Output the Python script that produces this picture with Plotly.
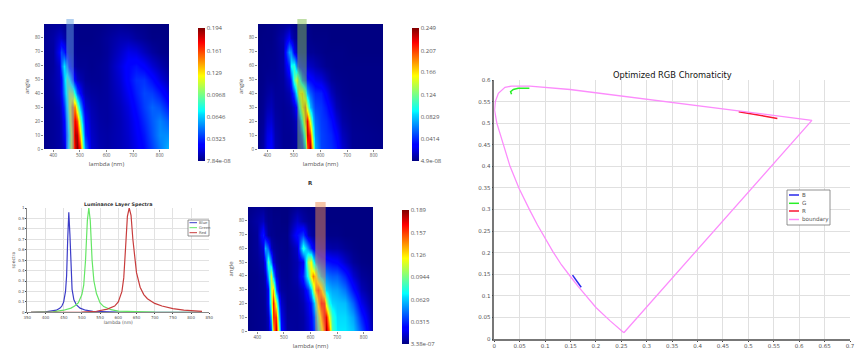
import plotly.graph_objects as go

W, H = 867, 358

angles = [0, 10, 20, 30, 40, 50, 60, 70, 80, 90]

lam_b = [365,400,420,430,440,450,460,470,480,490,500,510,520,540,570,600,650,680,710,740,770,800,835]
z_b = [
 [2,4,6,8,12,50,90,140,178,194,170,90,50,14,8,6,9,12,18,25,36,48,62],
 [2,4,6,9,20,45,85,140,185,185,135,70,32,12,7,6,9,13,20,28,40,52,52],
 [2,4,6,10,24,55,100,150,175,160,100,50,24,10,6,5,9,14,22,32,42,50,42],
 [2,4,7,14,34,70,115,150,145,105,60,30,15,8,5,5,10,16,26,36,44,40,28],
 [2,5,10,20,50,85,115,110,70,42,24,12,8,5,4,5,12,20,30,38,36,28,16],
 [2,6,10,20,60,92,78,42,20,12,8,6,4,3,3,5,14,24,33,34,26,16,8],
 [2,5,12,40,70,50,22,10,6,4,3,3,3,2,3,5,16,24,27,22,14,8,3],
 [3,5,20,38,30,12,5,3,3,2,2,2,2,2,2,4,12,18,16,10,5,2,1],
 [3,6,12,12,8,4,3,2,2,2,1,1,1,1,2,4,8,8,5,3,1,1,0],
 [2,4,4,3,2,2,1,1,1,1,1,1,1,1,1,2,3,2,1,1,0,0,0],
]
ticks_b = [0.0000000784, 0.0323, 0.0646, 0.0968, 0.129, 0.161, 0.194]
labels_b = ["7.84e-08", "0.0323", "0.0646", "0.0968", "0.129", "0.161", "0.194"]

lam_g = [365,385,400,415,430,460,480,490,500,510,520,530,540,550,560,570,580,600,620,640,660,680,720,835]
z_g = [
 [2,8,25,30,12,4,4,5,6,8,14,28,70,195,245,150,75,48,45,42,36,18,4,2],
 [2,7,22,26,10,4,4,5,7,10,20,50,120,235,210,110,65,48,44,40,30,13,4,2],
 [2,5,16,18,8,4,5,6,9,16,40,100,190,225,150,80,58,46,42,34,20,8,3,1],
 [1,4,10,12,6,4,6,9,18,38,95,165,195,140,80,58,48,44,36,24,11,5,2,1],
 [1,3,6,8,5,5,10,22,50,105,160,170,120,75,55,45,40,38,26,13,6,3,1,1],
 [1,2,4,4,4,6,20,45,115,150,110,60,42,36,32,28,24,20,12,5,3,2,1,1],
 [1,2,2,3,3,8,40,95,105,55,30,22,18,16,14,12,10,6,3,2,1,1,1,1],
 [1,1,2,2,3,8,70,65,25,12,8,6,6,5,4,4,3,2,1,1,1,1,0,0],
 [0,1,1,1,3,10,28,14,6,4,3,3,2,2,2,1,1,1,1,0,0,0,0,0],
 [0,0,1,1,2,4,5,3,2,1,1,1,1,1,1,0,0,0,0,0,0,0,0,0],
]
ticks_g = [0.000000049, 0.0414, 0.0829, 0.124, 0.166, 0.207, 0.249]
labels_g = ["4.9e-08", "0.0414", "0.0829", "0.124", "0.166", "0.207", "0.249"]

lam_r = [365,400,420,430,440,450,460,470,480,490,510,550,570,590,600,610,620,630,640,650,660,670,680,700,730,760,790,835]
z_r = [
 [1,2,3,4,8,35,130,180,90,25,5,4,6,12,20,30,45,70,105,150,185,150,85,68,68,62,40,6],
 [1,2,3,4,10,60,160,160,60,18,4,4,6,14,22,35,55,90,135,175,170,120,80,66,66,55,30,4],
 [1,2,3,5,18,95,165,110,35,12,3,4,8,18,30,50,85,130,170,165,110,75,65,62,60,42,18,2],
 [1,2,4,6,20,110,135,45,10,5,3,5,12,32,60,100,145,160,130,85,65,60,56,55,46,26,9,1],
 [1,2,5,10,55,115,60,15,6,3,2,8,30,80,125,145,120,80,60,52,48,44,42,42,30,13,4,1],
 [1,3,8,25,85,50,15,6,3,2,2,8,20,105,120,80,50,40,34,30,28,26,24,22,12,4,1,0],
 [1,4,15,58,40,10,5,3,2,2,1,12,80,50,30,20,16,12,10,9,8,7,6,6,3,1,0,0],
 [1,4,28,15,4,2,2,1,1,1,1,25,35,10,6,4,3,3,2,2,2,1,1,1,0,0,0,0],
 [2,6,10,5,2,2,1,1,1,0,0,12,6,3,2,2,1,1,1,1,0,0,0,0,0,0,0,0],
 [1,3,3,2,1,1,0,0,0,0,0,3,2,1,1,1,0,0,0,0,0,0,0,0,0,0,0,0],
]
ticks_r = [0.000000338, 0.0315, 0.0629, 0.0944, 0.126, 0.157, 0.189]
labels_r = ["3.38e-07", "0.0315", "0.0629", "0.0944", "0.126", "0.157", "0.189"]

spec_blue_x = [360,400,430,440,445,450,455,458,461,464,467,470,473,478,485,495,510,530,560,600,830]
spec_blue_y = [0,.005,.02,.04,.06,.1,.2,.35,.7,.96,.75,.4,.22,.12,.07,.04,.02,.01,.005,.003,0]
spec_green_x = [360,420,450,470,480,490,500,505,510,515,519,523,528,533,540,550,560,580,600,650,700,830]
spec_green_y = [0,.004,.02,.04,.06,.09,.17,.26,.5,.88,1,.88,.5,.3,.18,.09,.055,.025,.012,.004,.002,0]
spec_red_x = [360,500,540,570,590,600,610,615,620,625,630,635,640,645,650,660,670,680,700,720,750,780,830]
spec_red_y = [0,.002,.01,.03,.06,.1,.2,.33,.62,.92,1,.93,.7,.5,.38,.24,.17,.13,.085,.06,.035,.02,.008]

bound_x = [.255,.228,.2,.18,.165,.149,.132,.115,.1,.085,.07,.049,.031,.018,.005,.0005,.002,.008,.021,.034,.07,.149,.248,.346,.625,.255]
bound_y = [.0146,.042,.073,.1,.122,.146,.172,.203,.232,.264,.298,.348,.40,.449,.5,.53,.55,.569,.583,.586,.586,.578,.563,.548,.5066,.0146]
chrom_b_x = [.154,.160,.166,.171]
chrom_b_y = [.148,.139,.128,.12]
chrom_g_x = [.034,.032,.0375,.047,.069]
chrom_g_y = [.567,.573,.578,.5806,.5806]
chrom_r_x = [.481,.51,.535,.557]
chrom_r_y = [.5265,.521,.516,.511]

chrom_xticks = [0,.05,.1,.15,.2,.25,.3,.35,.4,.45,.5,.55,.6,.65,.7]
chrom_xlabels = ["0","0.05","0.1","0.15","0.2","0.25","0.3","0.35","0.4","0.45","0.5","0.55","0.6","0.65","0.7"]
chrom_yticks = [0,.05,.1,.15,.2,.25,.3,.35,.4,.45,.5,.55,.6]
chrom_ylabels = ["0","0.05","0.1","0.15","0.2","0.25","0.3","0.35","0.4","0.45","0.5","0.55","0.6"]
spec_xticks = [350,400,450,500,550,600,650,700,750,800,850]
spec_yticks = [0,.1,.2,.3,.4,.5,.6,.7,.8,.9,1]
spec_ylabels = ["0","0.1","0.2","0.3","0.4","0.5","0.6","0.7","0.8","0.9","1"]

GREY = "#555555"
FONT = "Open Sans"
MPL = "DejaVu Sans"
JET = [[0, "rgb(0,0,130)"], [.11, "rgb(0,0,255)"], [.125, "rgb(0,0,255)"], [.35, "rgb(0,220,255)"],
       [.375, "rgb(0,255,255)"], [.64, "rgb(255,255,0)"], [.66, "rgb(255,235,0)"], [.89, "rgb(255,0,0)"],
       [.91, "rgb(232,0,0)"], [1, "rgb(128,0,0)"]]


def xdom(a, b):
    return [a / W, b / W]


def ydom(top, bottom):
    return [1 - bottom / H, 1 - top / H]


fig = go.Figure()
shapes = []
annotations = []


def heat(idx, lam, z, ticks, labels, box, cbar, band, band_color):
    left, right, top, bottom = box
    cb_left, cb_top, cb_bottom = cbar
    suffix = str(idx)
    fig.add_trace(go.Heatmap(
        x=lam, y=angles, z=[[v / 1000 for v in row] for row in z],
        zmin=ticks[0], zmax=ticks[-1], zsmooth="best", colorscale=JET,
        xaxis="x" + suffix, yaxis="y" + suffix,
        colorbar=dict(x=cb_left / W, xanchor="left", xpad=0, ypad=0,
                      y=1 - (cb_top + cb_bottom) / 2 / H, yanchor="middle",
                      lenmode="pixels", len=cb_bottom - cb_top, thickness=7,
                      outlinewidth=0, ticks="", tickvals=ticks, ticktext=labels,
                      tickfont=dict(size=6, color=GREY, family=FONT)),
    ))
    fig.layout["xaxis" + suffix] = dict(
        domain=xdom(left, right), anchor="y" + suffix, range=[365, 835],
        tickvals=[400, 500, 600, 700, 800], ticks="outside", ticklen=2, tickcolor="#888",
        tickfont=dict(size=4.5, color=GREY, family=FONT), showgrid=False, zeroline=False,
        title=dict(text="lambda (nm)", font=dict(size=6, color=GREY, family=FONT), standoff=4),
    )
    fig.layout["yaxis" + suffix] = dict(
        domain=ydom(top, bottom), anchor="x" + suffix, range=[0, 90],
        tickvals=[0, 10, 20, 30, 40, 50, 60, 70, 80], ticks="outside", ticklen=2, tickcolor="#888",
        tickfont=dict(size=4.5, color=GREY, family=FONT), showgrid=False, zeroline=False,
        title=dict(text="angle", font=dict(size=6, color=GREY, family=FONT), standoff=4),
    )
    shapes.append(dict(type="rect", xref="x" + suffix, yref="paper", x0=band[0], x1=band[1],
                       y0=1 - bottom / H, y1=1 - (top - 5) / H, fillcolor=band_color,
                       opacity=0.5, line=dict(width=0), layer="above"))


heat(1, lam_b, z_b, ticks_b, labels_b, (44, 169, 24, 149), (198, 28, 161), (449, 477), "rgb(100,160,225)")
heat(2, lam_g, z_g, ticks_g, labels_g, (258, 383, 24, 149), (412, 28, 161), (513, 548), "rgb(130,190,80)")
heat(3, lam_r, z_r, ticks_r, labels_r, (248, 373, 207, 331), (402, 210, 344), (618, 657), "rgb(238,140,80)")

spec_series = [("Blue", spec_blue_x, spec_blue_y, "rgb(60,60,200)"),
               ("Green", spec_green_x, spec_green_y, "rgb(100,230,100)"),
               ("Red", spec_red_x, spec_red_y, "rgb(200,60,60)")]
for name, xs, ys, col in spec_series:
    fig.add_trace(go.Scatter(x=xs, y=ys, mode="lines", name=name, xaxis="x4", yaxis="y4",
                             line=dict(color=col, width=1.2), showlegend=False))

fig.layout["xaxis4"] = dict(
    domain=xdom(27.3, 209.3), anchor="y4", range=[350, 850], tickvals=spec_xticks,
    ticks="outside", ticklen=1, tickfont=dict(size=4, color=GREY, family=MPL),
    gridcolor="#e2e2e2", gridwidth=1, zeroline=False, showline=True, linecolor="#888",
    title=dict(text="lambda (nm)", font=dict(size=4.5, color=GREY, family=MPL), standoff=0),
)
fig.layout["yaxis4"] = dict(
    domain=ydom(208, 312.3), anchor="x4", range=[0, 1], tickvals=spec_yticks, ticktext=spec_ylabels,
    ticks="outside", ticklen=1, tickfont=dict(size=4, color=GREY, family=MPL),
    gridcolor="#e2e2e2", gridwidth=1, zeroline=False, showline=True, linecolor="#888",
    title=dict(text="spectra", font=dict(size=4.5, color=GREY, family=MPL), standoff=2),
)

chrom_series = [("B", chrom_b_x, chrom_b_y, "rgb(40,40,235)", 1.5),
                ("G", chrom_g_x, chrom_g_y, "rgb(40,240,40)", 1.5),
                ("R", chrom_r_x, chrom_r_y, "rgb(250,20,50)", 1.5),
                ("boundary", bound_x, bound_y, "rgb(252,140,252)", 1.3)]
for name, xs, ys, col, wid in chrom_series:
    fig.add_trace(go.Scatter(x=xs, y=ys, mode="lines", name=name, xaxis="x5", yaxis="y5",
                             line=dict(color=col, width=wid), showlegend=False))

fig.layout["xaxis5"] = dict(
    domain=xdom(494.3, 850), anchor="y5", range=[0, .7], tickvals=chrom_xticks, ticktext=chrom_xlabels,
    ticks="outside", ticklen=1, tickfont=dict(size=5.5, color=GREY, family=MPL),
    gridcolor="#e0e0e0", gridwidth=1, zeroline=False, showline=True, linecolor="#777", linewidth=1.5,
)
fig.layout["yaxis5"] = dict(
    domain=ydom(80, 339), anchor="x5", range=[0, .6], tickvals=chrom_yticks, ticktext=chrom_ylabels,
    ticks="outside", ticklen=1, tickfont=dict(size=5.5, color=GREY, family=MPL),
    gridcolor="#e0e0e0", gridwidth=1, zeroline=False, showline=True, linecolor="#777", linewidth=1.5,
)


def label(text, x, y, size, color="#333333", family=MPL, bold=False, anchor="center"):
    annotations.append(dict(text=f"<b>{text}</b>" if bold else text, xref="paper", yref="paper",
                            x=x / W, y=1 - y / H, showarrow=False, xanchor=anchor, yanchor="middle",
                            xshift=0, yshift=0, borderpad=0,
                            font=dict(size=size, color=color, family=family)))


def legend_box(names, colors, box, line_x, text_x, rows, size, widths):
    x0, x1, y0, y1 = box
    shapes.append(dict(type="rect", xref="paper", yref="paper", x0=x0 / W, x1=x1 / W,
                       y0=1 - y1 / H, y1=1 - y0 / H, fillcolor="white",
                       line=dict(color="#777777", width=0.8), layer="above"))
    for name, col, row in zip(names, colors, rows):
        shapes.append(dict(type="line", xref="paper", yref="paper", x0=line_x[0] / W, x1=line_x[1] / W,
                           y0=1 - row / H, y1=1 - row / H, line=dict(color=col, width=widths), layer="above"))
        label(name, text_x, row, size, color=GREY, anchor="left")


legend_box([s[0] for s in spec_series], [s[3] for s in spec_series], (188, 209, 220, 236),
           (189.5, 197), 198, [222.7, 227.7, 232.7], 3.8, 1)
legend_box([s[0] for s in chrom_series], [s[3] for s in chrom_series], (787, 830, 190, 225),
           (789, 799), 800.7, [195, 203.3, 211, 219.5], 5.6, 1.5)

label("B", 106, -3, 7, bold=True)
label("G", 320, -3, 7, bold=True)
label("R", 310, 183, 5.5, bold=True)
label("Luminance Layer Spectra", 118, 205, 4.8, bold=True)
label("Optimized RGB Chromaticity", 672, 75, 8.3, color="#111111")

fig.update_layout(
    width=W, height=H, margin=dict(l=0, r=0, t=0, b=0, autoexpand=False), autosize=False,
    paper_bgcolor="white", plot_bgcolor="white", showlegend=False,
    shapes=shapes, annotations=annotations,
)

fig.write_html("out.html", config={"displayModeBar": False},
               post_script="document.body.style.margin='0';document.documentElement.style.overflow='hidden';")
